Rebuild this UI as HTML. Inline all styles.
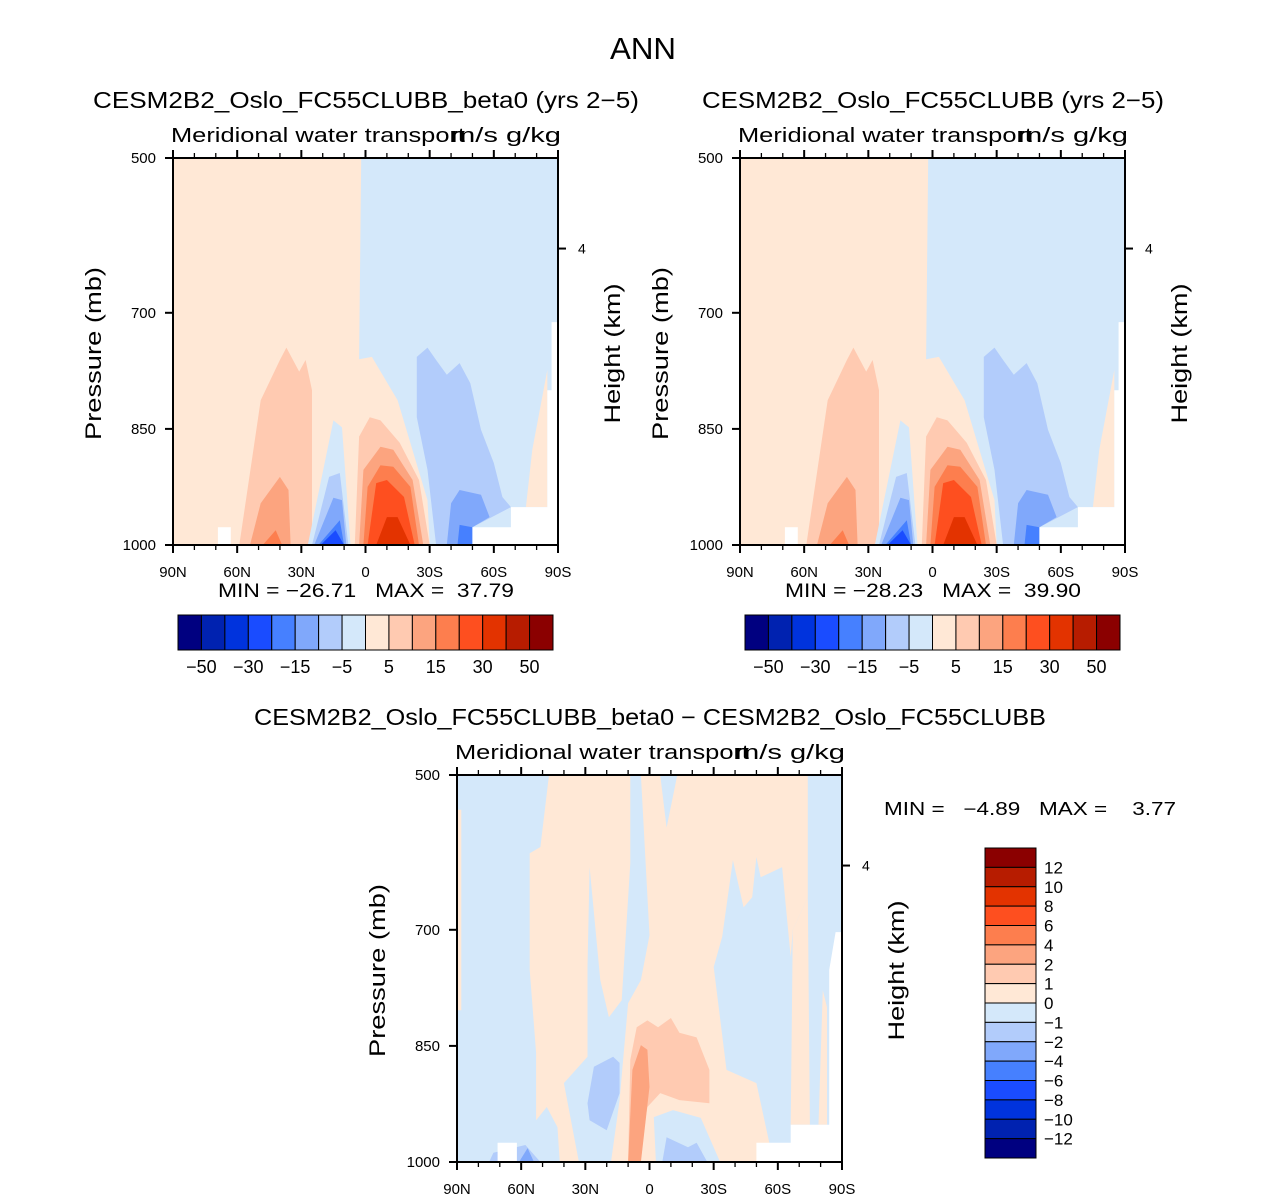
<!DOCTYPE html>
<html><head><meta charset="utf-8"><style>
html,body{margin:0;padding:0;background:#fff;}
svg{display:block;font-family:"Liberation Sans",sans-serif;}
</style></head><body>
<svg id="fig" width="1285" height="1200" viewBox="0 0 1285 1200">
<text x="643" y="59" font-size="31" text-anchor="middle" textLength="66" lengthAdjust="spacingAndGlyphs">ANN</text>
</svg>
<script>
// ---- data ----
const colors = ["#000080","#0022B0","#0033DD","#1A4CFF","#4680FF","#80A8FB","#B2CCFB","#D4E8FA","#FFE8D6","#FFCAB1","#FCA47F","#FD7E4E","#FE4F1F","#E33300","#B71C00","#8B0000"];
const topLevelLabels = ["−50","−30","−15","−5","5","15","30","50"];
const diffLevelLabels = ["12","10","8","6","4","2","1","0","−1","−2","−4","−6","−8","−10","−12"];
const xTickLats = [90,60,30,0,-30,-60,-90];
const xTickLabels = ["90N","60N","30N","0","30S","60S","90S"];
const pTicks = [500,700,850,1000];
// contour regions: [colorIndex, [[lat,p],...]], -1 = missing (white)
const ctlRegions = [
 [8,[[90,500],[-90,500],[-90,1000],[90,1000]]],
 [7,[[2,500],[3,760],[-3,757],[-15,813],[-29,942],[-30,1000],[-90,1000],[-90,500]]],
 [8,[[-75,951],[-78,877],[-85,774],[-85,951]]],
 [9,[[59,1000],[49,813],[40,761],[37,745],[31,776],[28,761],[25,800],[25,1000]]],
 [9,[[5,1000],[3,860],[-2,835],[-7,839],[-16,868],[-25,916],[-30,1000]]],
 [10,[[54,1000],[49,946],[40,912],[36,929],[35,1000]]],
 [10,[[3,1000],[1,903],[-7,873],[-13,877],[-22,916],[-27,1000]]],
 [11,[[48,1000],[42,981],[39,1000]]],
 [11,[[1,1000],[-1,925],[-7,897],[-13,899],[-21,925],[-25,1000]]],
 [12,[[-1,1000],[-5,920],[-10,916],[-18,938],[-23,1000]]],
 [13,[[-5,1000],[-10,964],[-15,964],[-21,1000]]],
 [7,[[27,1000],[15,839],[11,848],[7,1000]]],
 [6,[[25,1000],[17,912],[12,907],[8,1000]]],
 [6,[[-24,757],[-29,745],[-33,761],[-38,780],[-44,765],[-49,791],[-54,851],[-60,894],[-64,938],[-68,951],[-50,977],[-41,1000],[-33,1000],[-29,903],[-24,835]]],
 [5,[[24,1000],[15,939],[11,942],[9,1000]]],
 [5,[[-38,1000],[-40,946],[-44,929],[-54,935],[-58,964],[-50,977],[-50,1000]]],
 [4,[[22,1000],[12,968],[10,1000]]],
 [4,[[-43,1000],[-44,974],[-50,977],[-50,1000]]],
 [3,[[21,1000],[14,981],[10,1000]]],
 [-1,[[-50,977],[-90,977],[-90,1000],[-50,1000]]],
 [-1,[[-68,951],[-90,951],[-90,1000],[-68,1000]]],
 [-1,[[-87,712],[-90,712],[-90,1000],[-87,1000]]],
 [-1,[[-85,800],[-90,800],[-90,1000],[-85,1000]]],
 [-1,[[69,977],[63,977],[63,1000],[69,1000]]]
];
const diffRegions = [
 [7,[[90,500],[-90,500],[-90,1000],[90,1000]]],
 [8,[[90,545],[88,545],[88,804],[90,804]]],
 [8,[[47,500],[51,593],[56,601],[56,752],[53,859],[53,946],[48,929],[43,955],[42,1000],[33,1000],[40,898],[29,864],[29,748],[28,619],[23,765],[19,813],[13,791],[9,614],[9,500]]],
 [8,[[4,500],[0,707],[4,765],[10,795],[14,920],[18,1000],[-50,1000],[-56,975],[-50,898],[-36,881],[-30,748],[-34,709],[-39,610],[-44,671],[-48,658],[-50,606],[-52,632],[-56,627],[-62,619],[-66,735],[-67,700],[-74,658],[-74,500]]],
 [8,[[-67,700],[-74,658],[-75,952],[-66,952]]],
 [8,[[-79,952],[-81,778],[-83,800],[-83,952]]],
 [7,[[-5,500],[-8,568],[-13,500]]],
 [7,[[-3,1000],[-2,942],[-11,933],[-24,943],[-33,1000]]],
 [6,[[-6,1000],[-8,968],[-18,981],[-22,975],[-27,1000]]],
 [9,[[6,826],[1,817],[-4,826],[-10,814],[-14,833],[-22,839],[-28,881],[-28,924],[-14,920],[-5,911],[1,929],[4,975],[6,1000],[10,1000],[9,868]]],
 [10,[[10,1000],[8,881],[4,849],[1,855],[0,903],[4,1000]]],
 [6,[[29,924],[26,877],[17,864],[14,872],[14,911],[20,959],[28,946]]],
 [6,[[75,1000],[73,988],[58,978],[51,1000]]],
 [5,[[61,1000],[57,982],[54,1000]]],
 [-1,[[71,975],[62,975],[62,1000],[71,1000]]],
 [-1,[[-50,975],[-90,975],[-90,1000],[-50,1000]]],
 [-1,[[-66,952],[-90,952],[-90,1000],[-66,1000]]],
 [-1,[[-84,752],[-87,703],[-90,703],[-90,1000],[-84,1000]]]
];
const stats1 = ["−26.71","37.79"];
const stats2 = ["−28.23","39.90"];
const stats3 = ["−4.89","3.77"];

// ---- drawing ----
const NS="http://www.w3.org/2000/svg";
const svg=document.getElementById('fig');
function mk(tag,attrs,parent){const e=document.createElementNS(NS,tag);for(const k in attrs)e.setAttribute(k,attrs[k]);(parent||svg).appendChild(e);return e;}
function txt(x,y,s,size,anchor,parent,rot,len){const t=mk('text',{x:x,y:y,'font-size':size,'text-anchor':anchor||'start'},parent);if(rot)t.setAttribute('transform','rotate(-90 '+x+' '+y+')');if(len){t.setAttribute('textLength',len);t.setAttribute('lengthAdjust','spacingAndGlyphs');}t.style.whiteSpace='pre';t.textContent=s;return t;}

function panel(x0,y0,regions,title,titleX,titleLen,tag){
  const W=385,H=387;
  const xs=lat=>x0+(90-lat)/180*W;
  const ys=p=>y0+(p-500)/500*H;
  const g=mk('g',{});
  
  
  regions.forEach(r=>{
    const pts=r[1].map(q=>xs(q[0]).toFixed(1)+','+ys(q[1]).toFixed(1)).join(' ');
    const pg=mk('polygon',{points:pts,fill:r[0]<0?'#fff':colors[r[0]]},g);
    
    
  });
  const fr=mk('rect',{x:x0,y:y0,width:W,height:H,fill:'none',stroke:'#000','stroke-width':2},g);
  
  
  for(let lat=90;lat>=-90;lat-=10){
    const major=lat%30===0, L=major?8:5, x=xs(lat);
    mk('line',{x1:x,y1:y0+H,x2:x,y2:y0+H+L,stroke:'#000','stroke-width':major?2:1.3},g);
    mk('line',{x1:x,y1:y0,x2:x,y2:y0-L,stroke:'#000','stroke-width':major?2:1.3},g);
  }
  xTickLats.forEach((lat,i)=>{const t=txt(xs(lat),y0+H+32,xTickLabels[i],15,'middle',g);
    });
  pTicks.forEach(p=>{mk('line',{x1:x0-8,y1:ys(p),x2:x0,y2:ys(p),stroke:'#000','stroke-width':2},g);
    const t=txt(x0-17,ys(p)+5,String(p),15,'end',g);
    });
  mk('line',{x1:x0+W,y1:ys(617),x2:x0+W+8,y2:ys(617),stroke:'#000','stroke-width':2},g);
  txt(x0+W+20,ys(617)+5,'4',14,'start',g);
  const yl=txt(x0-72,y0+H/2+2,'Pressure (mb)',22,'middle',g,true,173);
  
  const hl=txt(x0+W+62,y0+H/2+2,'Height (km)',22,'middle',g,true,140);
  
  const st=txt(x0-2,y0-16,'Meridional water transport',20,'start',g,false,294);
  
  const un=txt(x0+W+3,y0-16,'m/s g/kg',20,'end',g,false,110);
  
  const tt=txt(titleX,y0-50,title,23,'middle',g,false,titleLen);
  
}
function hbar(x0,y0,stats,cx){
  const w=375/16;
  colors.forEach((c,i)=>{const r=mk('rect',{x:x0+i*w,y:y0,width:w,height:35,fill:c,stroke:'#000','stroke-width':1});
    });
  topLevelLabels.forEach((s,i)=>{const t=txt(x0+(2*i+1)*w,y0+58,s,18,'middle');
    });
  const m=txt(cx,y0-18,'MIN = '+stats[0]+'   MAX =  '+stats[1],19,'middle',null,false,296);
  
}
panel(173,158,ctlRegions,'CESM2B2_Oslo_FC55CLUBB_beta0 (yrs 2−5)',366,546,'beta0');
panel(740,158,ctlRegions,'CESM2B2_Oslo_FC55CLUBB (yrs 2−5)',933,462,'control');
panel(457,775,diffRegions,'CESM2B2_Oslo_FC55CLUBB_beta0 − CESM2B2_Oslo_FC55CLUBB',650,792,'difference');
hbar(178,615,stats1,366);
hbar(745,615,stats2,933);
// vertical colorbar
const vh=310/16;
colors.slice().reverse().forEach((c,i)=>{const r=mk('rect',{x:985,y:848+i*vh,width:51,height:vh,fill:c,stroke:'#000','stroke-width':1});
  });
diffLevelLabels.forEach((s,i)=>{const t=txt(1044,848+(i+1)*vh+6,s,17,'start');
  });
const m3=txt(884,815,'MIN =   '+stats3[0]+'   MAX =    '+stats3[1],18,'start',null,false,292);

</script>
</body></html>
